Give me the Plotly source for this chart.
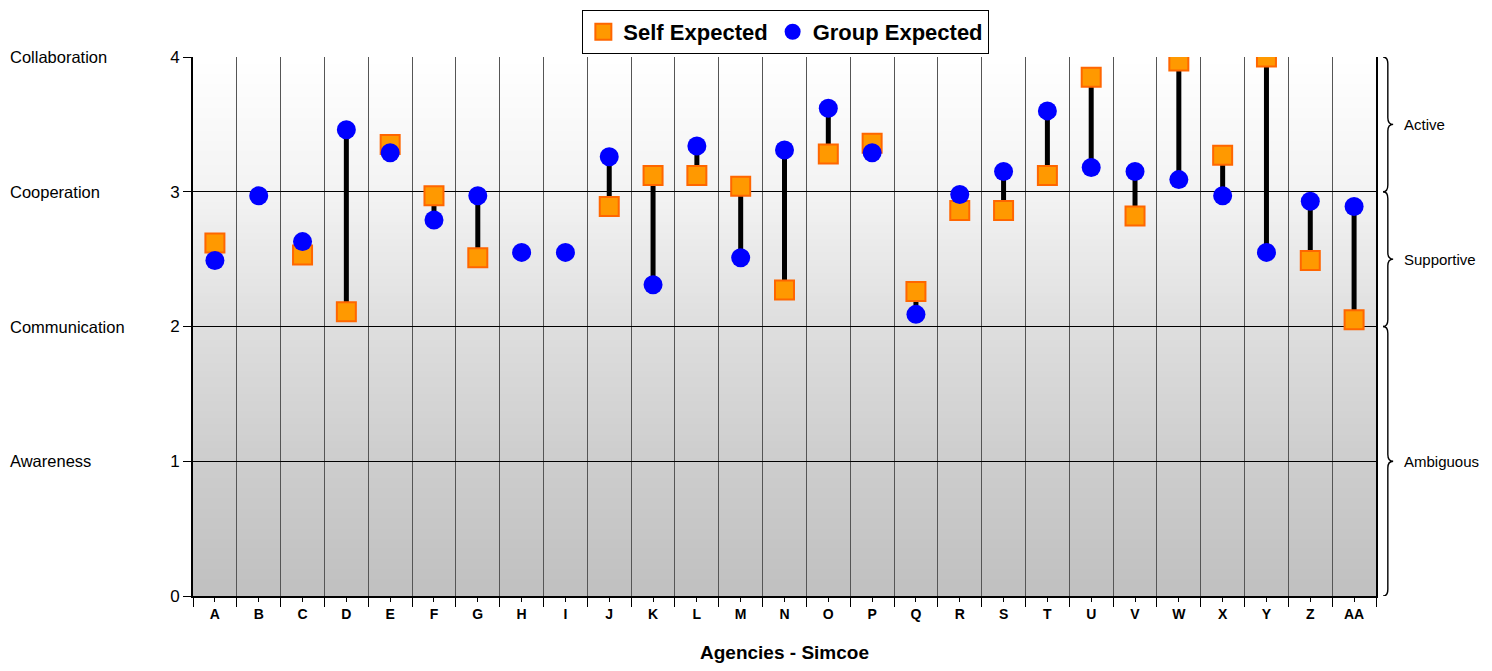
import plotly.graph_objects as go

agencies = ["A","B","C","D","E","F","G","H","I","J","K","L","M","N","O","P","Q","R","S","T","U","V","W","X","Y","Z","AA"]
self_expected = [2.62, None, 2.53, 2.11, 3.35, 2.97, 2.51, None, None, 2.89, 3.12, 3.12, 3.04, 2.27, 3.28, 3.36, 2.26, 2.86, 2.86, 3.12, 3.85, 2.82, 3.97, 3.27, 4.00, 2.49, 2.05]
group_expected = [2.49, 2.97, 2.63, 3.46, 3.29, 2.79, 2.97, 2.55, 2.55, 3.26, 2.31, 3.34, 2.51, 3.31, 3.62, 3.29, 2.09, 2.98, 3.15, 3.60, 3.18, 3.15, 3.09, 2.97, 2.55, 2.93, 2.89]
level_labels = ["Awareness", "Communication", "Cooperation", "Collaboration"]
level_values = [1, 2, 3, 4]
zones = ["Active", "Supportive", "Ambiguous"]
zone_ranges = [(3, 4), (2, 3), (0, 2)]

xs = list(range(len(agencies)))

# connecting lines
lx, ly = [], []
for i, (s, g) in enumerate(zip(self_expected, group_expected)):
    if s is not None and g is not None:
        lx += [i, i, None]
        ly += [s, g, None]

fig = go.Figure()
fig.add_trace(go.Scatter(x=lx, y=ly, mode="lines", line=dict(color="black", width=5),
                         showlegend=False, hoverinfo="skip"))
fig.add_trace(go.Scatter(x=xs, y=self_expected, mode="markers", name="Self Expected",
                         marker=dict(symbol="square", size=19, color="#ff9900",
                                     line=dict(color="#ff6600", width=2))))
fig.add_trace(go.Scatter(x=xs, y=group_expected, mode="markers", name="Group Expected",
                         marker=dict(symbol="circle", size=19, color="#0000ff",
                                     line=dict(color="#0000ff", width=0))))

# gradient background (overlapping stripes to avoid seams)
shapes = []
n = 160
pts = [(4, 255), (3, 243), (2, 222), (1, 205), (0, 192)]
def col(y):
    for (y1, c1), (y2, c2) in zip(pts[:-1], pts[1:]):
        if y2 <= y <= y1:
            t = (y1 - y) / (y1 - y2)
            return c1 + (c2 - c1) * t
    return 192
step = 4 / n
for k in range(n):
    y0 = k * step
    y1 = min(4, y0 + 2.5 * step)
    c = int(round(col(y0 + step / 2)))
    shapes.append(dict(type="rect", xref="paper", yref="y", x0=0, x1=1, y0=y0, y1=y1,
                       fillcolor=f"rgb({c},{c},{c})", line=dict(width=0), layer="below"))

# braces
bx0, bx1, bx2 = 1.0060, 1.0100, 1.0145
for (lo, hi) in zone_ranges:
    mid = (lo + hi) / 2
    d = 0.05
    path = (f"M {bx0},{hi} Q {bx1},{hi} {bx1},{hi - d} L {bx1},{mid + d} "
            f"Q {bx1},{mid} {bx2},{mid} Q {bx1},{mid} {bx1},{mid - d} "
            f"L {bx1},{lo + d} Q {bx1},{lo} {bx0},{lo}")
    shapes.append(dict(type="path", xref="paper", yref="y", path=path,
                       line=dict(color="black", width=1.4)))

annotations = []
for (name, (lo, hi)) in zip(zones, zone_ranges):
    annotations.append(dict(text=name, xref="paper", yref="y", x=1.0220, y=(lo + hi) / 2,
                            xanchor="left", yanchor="middle", showarrow=False,
                            font=dict(family="Liberation Sans, Arial", size=15, color="black")))
for lab, v in zip(level_labels, level_values):
    annotations.append(dict(text=lab, xref="paper", yref="y", x=-0.1565, y=v,
                            xanchor="left", yanchor="middle", showarrow=False,
                            font=dict(family="Liberation Sans, Arial", size=16.5, color="black")))

fig.update_layout(
    width=1476, height=655,
    margin=dict(l=185, r=108, t=49, b=67, autoexpand=False),
    paper_bgcolor="white", plot_bgcolor="white",
    font=dict(family="Liberation Sans, Arial", color="black"),
    shapes=shapes, annotations=annotations,
    showlegend=True,
    legend=dict(orientation="h", x=0.527, xanchor="center", xref="container",
                y=0.997, yanchor="top", yref="container",
                bordercolor="black", borderwidth=1, bgcolor="white",
                font=dict(family="Liberation Sans, Arial", size=22, color="black", weight="bold"),
                itemsizing="trace", tracegroupgap=0, itemwidth=30),
    xaxis=dict(range=[-0.5, len(agencies) - 0.5], tickmode="array", tickvals=xs, ticktext=agencies,
               showgrid=False, zeroline=False, ticks="outside", ticklen=4, tickcolor="black",
               tickfont=dict(size=14, weight="bold"),
               showline=True, linecolor="black", linewidth=2,
               minor=dict(tickmode="linear", tick0=-0.5, dtick=1, showgrid=True,
                          gridcolor="#555555", gridwidth=1, ticks="outside", ticklen=9, tickcolor="black"),
               title=dict(text="Agencies - Simcoe", font=dict(size=19, weight="bold"), standoff=36)),
    yaxis=dict(range=[0, 4], tickmode="array", tickvals=[0, 1, 2, 3, 4],
               showgrid=True, gridcolor="black", gridwidth=1, zeroline=False,
               ticks="outside", ticklen=8, tickcolor="black", tickfont=dict(size=17),
               showline=True, linecolor="black", linewidth=2, mirror=True),
)

fig.write_html("out.html")
